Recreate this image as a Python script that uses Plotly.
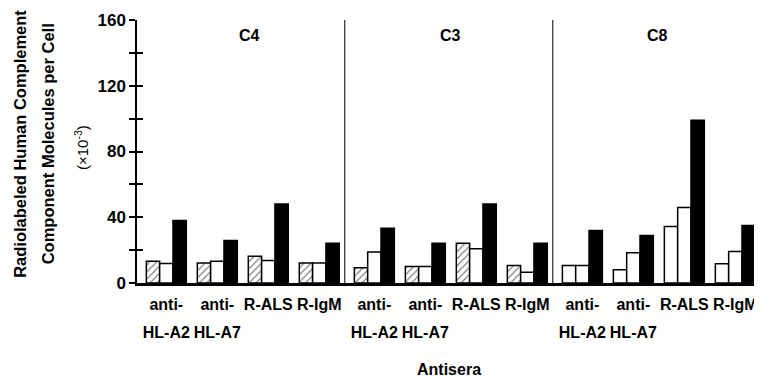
import plotly.graph_objects as go

# ---- data ----
panels = ["C4", "C3", "C8"]
label_line1 = ["anti-", "anti-", "R-ALS", "R-IgM"]
label_line2 = ["HL-A2", "HL-A7", "", ""]

hatched = [13.3, 12.1, 16.2, 12.1, 9.3, 10.1, 24.2, 10.7, 10.7, 8.1, 34.4, 11.7]
white = [11.8, 13.3, 13.7, 12.1, 18.8, 10.0, 20.8, 6.5, 10.7, 18.4, 46.0, 19.2]
black = [38.0, 25.9, 48.0, 24.2, 33.3, 24.2, 48.0, 24.2, 31.9, 28.9, 99.0, 35.0]

y_tickvals = [0, 20, 40, 60, 80, 100, 120, 140, 160]
y_ticktext = ["0", "", "40", "", "80", "", "120", "", "160"]

# ---- layout helpers ----
n_per = len(label_line1)
n = n_per * len(panels)
xs = [g + 0.08 * (g // n_per) for g in range(n)]
tick1 = label_line1 * len(panels)
tick2 = label_line2 * len(panels)

FONT = "Liberation Sans, Arial, sans-serif"


def bf(size):
    return dict(family=FONT, size=size, color="black", weight="bold")


outline = dict(color="black", width=1.5)
hatch_shapes = ["/"] * (2 * n_per) + [""] * n_per

fig = go.Figure()
fig.add_trace(go.Bar(x=xs, y=hatched, name="hatched",
                     marker=dict(color="white", line=outline,
                                 pattern=dict(shape=hatch_shapes, fgcolor="black",
                                              bgcolor="white", size=5, solidity=0.25))))
fig.add_trace(go.Bar(x=xs, y=white, name="white",
                     marker=dict(color="white", line=outline)))
fig.add_trace(go.Bar(x=xs, y=black, name="black",
                     marker=dict(color="black", line=outline)))
# invisible trace carrying the secondary axes (inside ticks, second label line)
fig.add_trace(go.Scatter(x=[xs[0]], y=[0], mode="none", xaxis="x2", yaxis="y2",
                         showlegend=False, hoverinfo="skip"))

xrange = [-0.575, xs[-1] + 0.484]

# the page body adds an 8px offset, so the figure is sized to end at the window edge
fig.update_layout(
    width=754, height=373,
    margin=dict(l=129, r=2, t=12, b=98),
    paper_bgcolor="white", plot_bgcolor="white",
    barmode="group", bargap=0.216, bargroupgap=0,
    showlegend=False,
    xaxis=dict(range=xrange, tickvals=xs, ticktext=tick1, ticks="", tickangle=0,
               showline=True, linecolor="black", linewidth=2.5, automargin=False,
               showgrid=False, zeroline=False, tickfont=bf(16),
               ticklabelstandoff=5),
    xaxis2=dict(range=xrange, overlaying="x", anchor="y2", side="bottom",
                tickvals=xs, ticktext=tick2, ticks="", tickangle=0, showline=False,
                showgrid=False, zeroline=False, tickfont=bf(16), automargin=False,
                ticklabelstandoff=38),
    yaxis=dict(range=[0, 160], tickvals=y_tickvals, ticktext=y_ticktext,
               ticks="outside", ticklen=6, tickwidth=1.5, tickcolor="black",
               showline=True, linecolor="black", linewidth=1.5, automargin=False,
               showgrid=False, zeroline=False, tickfont=bf(17)),
    yaxis2=dict(range=[0, 160], overlaying="y", anchor="x2", side="left",
                tickvals=y_tickvals, ticks="inside", ticklen=6, tickwidth=1.5,
                tickcolor="black", showticklabels=False, showline=False,
                showgrid=False, zeroline=False, automargin=False),
)

# panel dividers
for p in range(1, len(panels)):
    xd = xs[p * n_per - 1] + 0.5
    fig.add_shape(type="line", xref="x", yref="y", x0=xd, x1=xd, y0=0, y1=160,
                  line=dict(color="black", width=1))

ann = dict(xref="paper", yref="paper", showarrow=False, xanchor="center", yanchor="middle")

# panel titles
for name, px in zip(panels, [0.18, 0.504, 0.836]):
    fig.add_annotation(text=name, x=px, y=0.941, font=bf(16), **ann)

# x axis title
fig.add_annotation(text="Antisera", x=0.5, y=-0.329, font=bf(16), **ann)

# y axis title
fig.add_annotation(text="Radiolabeled Human Complement", x=-0.1878, y=0.529,
                   textangle=-90, font=bf(16.5), **ann)
fig.add_annotation(text="Component Molecules per Cell", x=-0.1437, y=0.529,
                   textangle=-90, font=bf(16.5), **ann)
fig.add_annotation(text="(×10<sup>-3</sup>)", x=-0.0899, y=0.517, textangle=-90,
                   font=dict(family=FONT, size=15, color="black"), **ann)

fig.write_html("out.html")
